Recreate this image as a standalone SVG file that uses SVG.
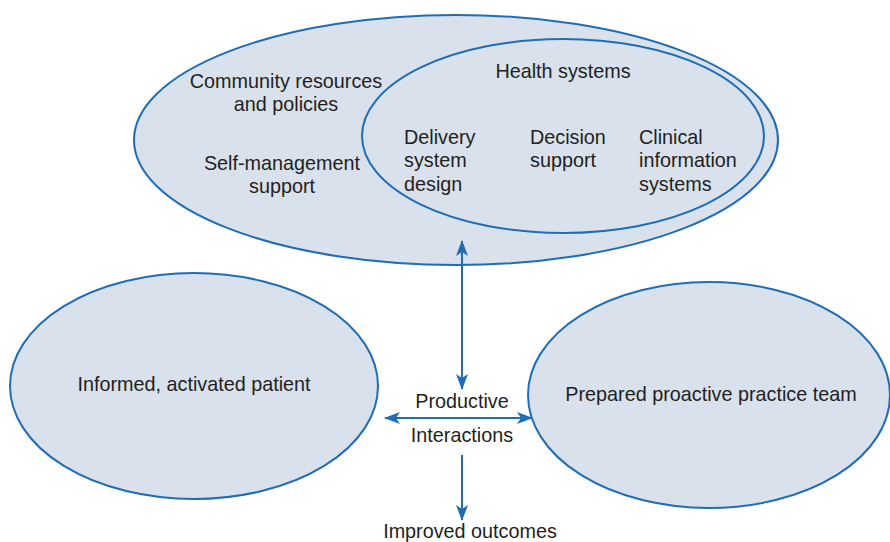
<svg xmlns="http://www.w3.org/2000/svg" width="890" height="542" viewBox="0 0 890 542">
  <defs>
    <marker id="head" viewBox="0 0 16 12" refX="15" refY="6" markerWidth="16" markerHeight="12" markerUnits="userSpaceOnUse" orient="auto-start-reverse">
      <path d="M0,0 L16,6 L0,12 L4,6 Z" fill="#1f6db4"/>
    </marker>
  </defs>
  <style>
    .blob { fill: #d9e1ec; stroke: #1f6db4; stroke-width: 2; }
    .lbl { font-family: "Liberation Sans", Arial, sans-serif; font-size: 19.8px; fill: #231f20; }
    .mid { text-anchor: middle; }
    .link { stroke: #1f6db4; stroke-width: 2; fill: none; }
  </style>
  <rect width="890" height="542" fill="#ffffff"/>

  <g id="community">
    <ellipse class="blob" cx="456" cy="140" rx="322" ry="125"/>
    <text class="lbl mid" x="286" y="88">Community resources</text>
    <text class="lbl mid" x="286" y="111">and policies</text>
    <text class="lbl mid" x="282" y="170">Self-management</text>
    <text class="lbl mid" x="282" y="193">support</text>
  </g>

  <g id="health-systems">
    <ellipse class="blob" cx="563" cy="136" rx="201" ry="97"/>
    <text class="lbl mid" x="563" y="78">Health systems</text>
    <text class="lbl" x="404" y="144">Delivery</text>
    <text class="lbl" x="404" y="167">system</text>
    <text class="lbl" x="404" y="191">design</text>
    <text class="lbl" x="530" y="144">Decision</text>
    <text class="lbl" x="530" y="167">support</text>
    <text class="lbl" x="639" y="144">Clinical</text>
    <text class="lbl" x="639" y="167">information</text>
    <text class="lbl" x="639" y="191">systems</text>
  </g>

  <g id="patient">
    <ellipse class="blob" cx="194" cy="386" rx="184" ry="113"/>
    <text class="lbl mid" x="194" y="391">Informed, activated patient</text>
  </g>

  <g id="practice-team">
    <ellipse class="blob" cx="709" cy="395" rx="181" ry="113"/>
    <text class="lbl mid" x="711" y="401">Prepared proactive practice team</text>
  </g>

  <g id="connectors">
    <line class="link" x1="462" y1="241" x2="462" y2="389" marker-start="url(#head)" marker-end="url(#head)"/>
    <line class="link" x1="385" y1="418" x2="532" y2="418" marker-start="url(#head)" marker-end="url(#head)"/>
    <line class="link" x1="462" y1="455" x2="462" y2="520" marker-end="url(#head)"/>
  </g>

  <g id="interactions">
    <text class="lbl mid" x="462" y="408">Productive</text>
    <text class="lbl mid" x="462" y="442">Interactions</text>
  </g>

  <g id="outcomes">
    <text class="lbl mid" x="470" y="538">Improved outcomes</text>
  </g>
</svg>
